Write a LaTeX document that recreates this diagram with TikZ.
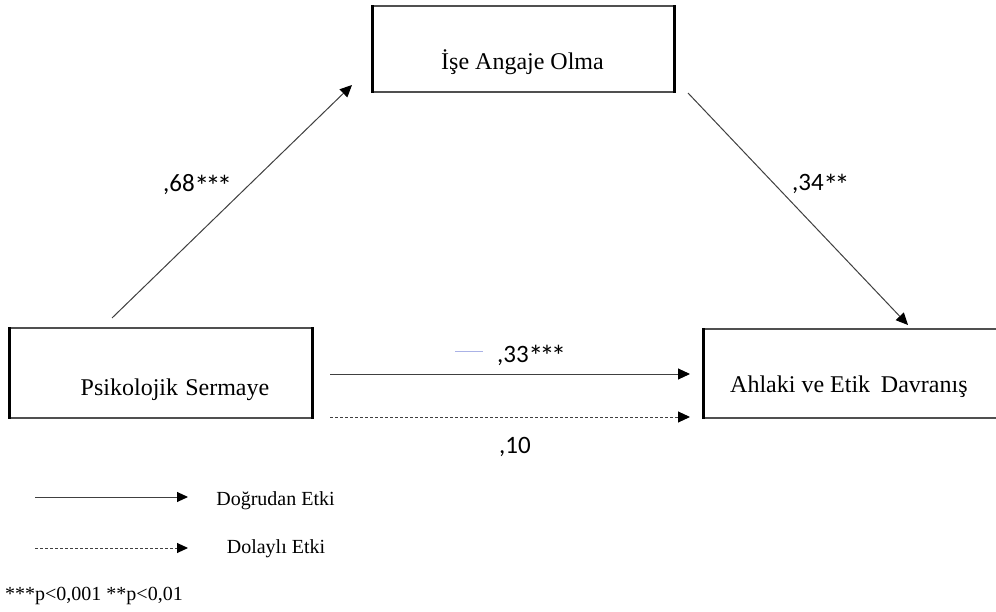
\documentclass[tikz,border=0pt]{standalone}
\usepackage{fontspec}
\setmainfont{Liberation Serif}
\newfontfamily\coeffont{Carlito}
\usetikzlibrary{arrows.meta, positioning}
\definecolor{boxline}{HTML}{505050}
\definecolor{arrowline}{HTML}{404040}
\definecolor{strayblue}{HTML}{AAB2E6}
\newcommand\starmark{\kern-0.5pt\raisebox{-5pt}{\scalebox{1.2}{*}}\kern-3pt}

\begin{document}
\begin{tikzpicture}[x=1pt, y=-1pt,
  varbox/.style={draw=boxline, line width=1.1pt, inner sep=0pt},
  boxtext/.style={font=\fontsize{24}{28}\selectfont, anchor=base, inner sep=0pt},
  coef/.style={font=\coeffont\fontsize{25}{28}\selectfont, anchor=base, inner sep=0pt},
  legendtext/.style={font=\fontsize{20}{24}\selectfont, anchor=base, inner sep=0pt},
  thickside/.style={line width=3.4pt, black},
  direct/.style={draw=arrowline, line width=1pt,
                 -{Triangle[length=12pt, width=11pt, color=black]}},
  indirect/.style={direct, dash pattern=on 3pt off 2pt},
]

\fill[white] (0,0) rectangle (996,612);
\clip (0,0) rectangle (996,612);

% variables
\node[varbox, minimum width=301pt, minimum height=86pt] (ise) at (523.5,49) {};
\node[varbox, minimum width=302pt, minimum height=90pt] (psy) at (161,373) {};
\node[varbox, minimum width=296pt, minimum height=89pt] (ahl) at (852,373.5) {};

\draw[thickside] (ise.north west) -- (ise.south west);
\draw[thickside] (ise.north east) -- (ise.south east);
\draw[thickside] (psy.north west) -- (psy.south west);
\draw[thickside] (psy.north east) -- (psy.south east);
\draw[thickside] (ahl.north west) -- (ahl.south west);

\node[boxtext] (iseT) at (522.5,70) {İşe Angaje Olma};
\node[boxtext] (psyT) at (175,395) {Psikolojik\hspace{0.3em}Sermaye};
\node[boxtext, anchor=base west] (ahlT) at (730,392) {Ahlaki ve Etik\hspace{0.45em}Davranış};

% paths
\coordinate (aS) at (112,318);
\coordinate (aE) at (352,85);
\coordinate (bS) at (688,93);
\coordinate (bE) at (908,325);
\coordinate (cS) at (330,374);
\coordinate (cE) at (690,374);
\coordinate (dS) at (330,417);
\coordinate (dE) at (690,417);

\draw[direct] (aS) -- (aE);
\draw[direct] (bS) -- (bE);
\draw[direct] (cS) -- (cE);
\draw[indirect] (dS) -- (dE);

\node[coef, anchor=base west] (kA) at (163,192) {,68\starmark\starmark\starmark};
\node[coef, anchor=base west] (kB) at (792,191) {,34\starmark\starmark};
\node[coef, anchor=base west] (kC) at (497,362) {,33\starmark\starmark\starmark};
\node[coef] (kD) at (515,453) {,10};
\draw[strayblue, line width=1pt] (455,351) -- (483,351);

% legend
\coordinate (lgS1) at (35,497);
\coordinate (lgE1) at (188,497);
\coordinate (lgS2) at (35,548);
\coordinate (lgE2) at (188,548);
\draw[direct, -{Triangle[length=11pt, width=10pt, color=black]}] (lgS1) -- (lgE1);
\draw[indirect, -{Triangle[length=11pt, width=10pt, color=black]}] (lgS2) -- (lgE2);

\node[legendtext] (lgT1) at (275.5,505) {Doğrudan Etki};
\node[legendtext] (lgT2) at (276,553) {Dolaylı Etki};
\node[legendtext, anchor=base west] (note) at (5,600) {***p<0,001 **p<0,01};

\end{tikzpicture}
\end{document}
